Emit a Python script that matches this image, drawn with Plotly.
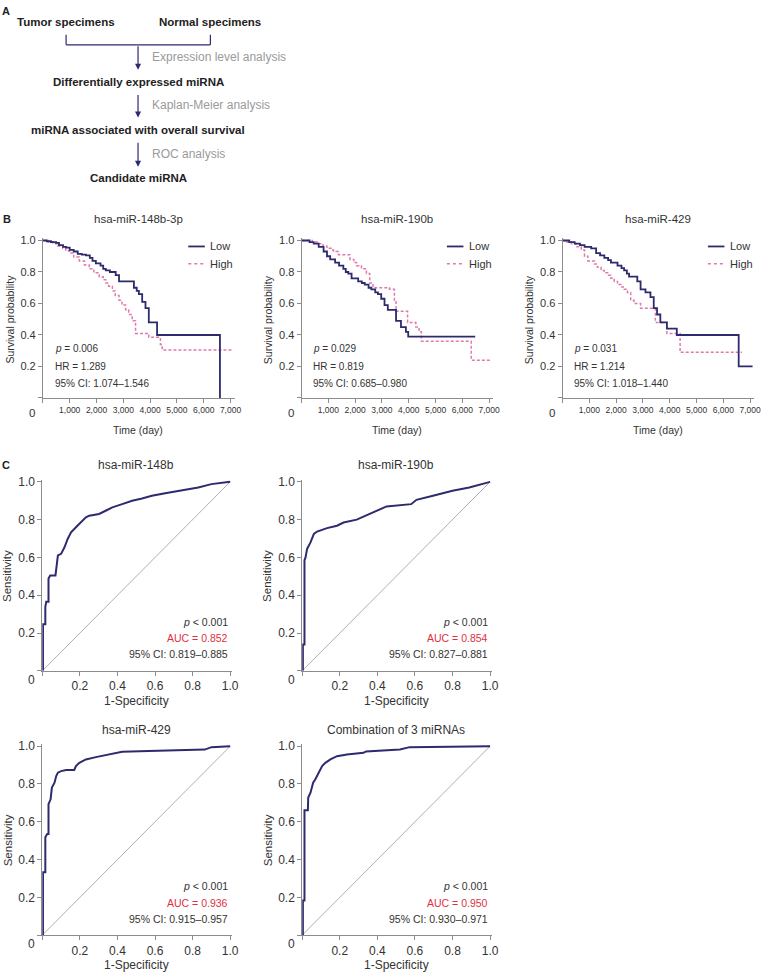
import plotly.graph_objects as go

W, H = 769, 975
NAVY = "#2d2a6e"
PINK = "#e07aae"
RED = "#e0303f"
GRAY = "#8c8c8c"
TXT = "#333333"
FONT = "Liberation Sans, Arial, sans-serif"

# ---------------- Data ----------------
km_titles = ["hsa-miR-148b-3p", "hsa-miR-190b", "hsa-miR-429"]

km1_low_t = [0, 150, 300, 494, 600, 750, 864, 1000, 1150, 1300, 1450, 1605, 1750, 1850, 1975, 2150, 2250, 2346, 2500, 2716, 2840, 3395, 3500, 3580, 3704, 3827, 3951, 4259, 6605]
km1_low_s = [1.0, 0.995, 0.99, 0.985, 0.97, 0.96, 0.955, 0.94, 0.93, 0.915, 0.91, 0.905, 0.89, 0.87, 0.855, 0.84, 0.82, 0.81, 0.80, 0.78, 0.74, 0.70, 0.68, 0.66, 0.61, 0.57, 0.48, 0.40, 0.0]
km1_high_t = [0, 200, 370, 550, 740, 850, 990, 1150, 1360, 1550, 1728, 1900, 2100, 2250, 2346, 2450, 2593, 2700, 2840, 2950, 3086, 3200, 3333, 3457, 3951, 4383, 4450, 7100]
km1_high_s = [1.0, 0.99, 0.98, 0.965, 0.95, 0.935, 0.92, 0.895, 0.87, 0.845, 0.82, 0.795, 0.77, 0.75, 0.73, 0.71, 0.68, 0.65, 0.62, 0.59, 0.56, 0.53, 0.49, 0.41, 0.385, 0.34, 0.305, 0.305]

km2_low_t = [0, 300, 455, 640, 823, 950, 1069, 1253, 1400, 1560, 1650, 1744, 1867, 2113, 2250, 2359, 2500, 2604, 2750, 2850, 2973, 3096, 3219, 3526, 3710, 3894, 3980, 6480]
km2_low_s = [1.0, 0.99, 0.98, 0.96, 0.93, 0.90, 0.88, 0.86, 0.84, 0.82, 0.80, 0.79, 0.76, 0.74, 0.73, 0.72, 0.70, 0.69, 0.67, 0.66, 0.63, 0.59, 0.56, 0.49, 0.45, 0.42, 0.39, 0.39]
km2_high_t = [0, 400, 640, 800, 946, 1100, 1192, 1376, 1806, 1950, 2051, 2236, 2420, 2543, 2666, 3280, 3464, 3526, 3956, 4263, 4386, 4472, 6330, 7100]
km2_high_s = [1.0, 0.99, 0.98, 0.965, 0.95, 0.94, 0.93, 0.91, 0.88, 0.86, 0.84, 0.82, 0.79, 0.73, 0.70, 0.69, 0.62, 0.55, 0.48, 0.45, 0.42, 0.36, 0.24, 0.24]

km3_low_t = [0, 250, 455, 650, 823, 1069, 1253, 1400, 1560, 1700, 1806, 2051, 2200, 2297, 2400, 2482, 2789, 2912, 3096, 3280, 3403, 3526, 3649, 3894, 4263, 6572, 7090]
km3_low_s = [1.0, 0.99, 0.98, 0.97, 0.96, 0.95, 0.92, 0.905, 0.89, 0.875, 0.86, 0.84, 0.825, 0.81, 0.79, 0.77, 0.74, 0.69, 0.67, 0.64, 0.57, 0.53, 0.48, 0.44, 0.40, 0.20, 0.20]
km3_high_t = [0, 150, 332, 500, 700, 820, 946, 1192, 1300, 1437, 1560, 1683, 1800, 1929, 2050, 2174, 2300, 2420, 2543, 2666, 2912, 3464, 3894, 4386, 6695]
km3_high_s = [1.0, 0.99, 0.98, 0.96, 0.94, 0.90, 0.87, 0.85, 0.83, 0.81, 0.795, 0.78, 0.76, 0.74, 0.72, 0.705, 0.69, 0.67, 0.62, 0.60, 0.57, 0.48, 0.41, 0.29, 0.29]

km_stats = [
    ["<i>p</i> = 0.006", "HR = 1.289", "95% CI: 1.074–1.546"],
    ["<i>p</i> = 0.029", "HR = 0.819", "95% CI: 0.685–0.980"],
    ["<i>p</i> = 0.031", "HR = 1.214", "95% CI: 1.018–1.440"],
]
km_xticks = [0, 1000, 2000, 3000, 4000, 5000, 6000, 7000]
km_xticktext = ["", "1,000", "2,000", "3,000", "4,000", "5,000", "6,000", "7,000"]
prob_ticks = [0, 0.2, 0.4, 0.6, 0.8, 1.0]
prob_ticktext = ["", "0.2", "0.4", "0.6", "0.8", "1.0"]

roc_titles = ["hsa-miR-148b", "hsa-miR-190b", "hsa-miR-429", "Combination of 3 miRNAs"]
roc1_fpr = [0.0035, 0.0035, 0.016, 0.016, 0.021, 0.033, 0.033, 0.042, 0.070, 0.074, 0.083, 0.10, 0.118, 0.135, 0.153, 0.179, 0.206, 0.232, 0.25, 0.302, 0.337, 0.373, 0.425, 0.478, 0.531, 0.583, 0.654, 0.742, 0.83, 0.90, 1.0]
roc1_tpr = [0.0, 0.246, 0.246, 0.339, 0.365, 0.365, 0.488, 0.505, 0.505, 0.549, 0.611, 0.619, 0.654, 0.698, 0.733, 0.76, 0.786, 0.812, 0.821, 0.83, 0.847, 0.865, 0.882, 0.90, 0.912, 0.926, 0.94, 0.953, 0.97, 0.988, 1.0]
roc2_fpr = [0.0035, 0.0035, 0.012, 0.012, 0.0176, 0.026, 0.044, 0.062, 0.079, 0.132, 0.185, 0.22, 0.29, 0.36, 0.449, 0.58, 0.608, 0.696, 0.80, 0.889, 1.0]
roc2_tpr = [0.0, 0.14, 0.14, 0.585, 0.60, 0.645, 0.68, 0.725, 0.737, 0.755, 0.768, 0.785, 0.80, 0.83, 0.87, 0.882, 0.905, 0.926, 0.953, 0.97, 1.0]
roc3_fpr = [0.0035, 0.0035, 0.016, 0.016, 0.026, 0.033, 0.033, 0.044, 0.051, 0.065, 0.074, 0.083, 0.10, 0.127, 0.17, 0.179, 0.197, 0.232, 0.285, 0.355, 0.425, 0.566, 0.742, 0.865, 0.90, 1.0]
roc3_tpr = [0.0, 0.333, 0.333, 0.518, 0.535, 0.535, 0.693, 0.719, 0.781, 0.807, 0.842, 0.86, 0.868, 0.874, 0.874, 0.895, 0.912, 0.93, 0.942, 0.956, 0.97, 0.974, 0.977, 0.982, 0.995, 1.0]
roc4_fpr = [0.0035, 0.0035, 0.012, 0.012, 0.03, 0.032, 0.044, 0.058, 0.07, 0.088, 0.106, 0.123, 0.15, 0.185, 0.238, 0.326, 0.34, 0.52, 0.572, 1.0]
roc4_tpr = [0.0, 0.184, 0.184, 0.661, 0.661, 0.728, 0.754, 0.807, 0.825, 0.86, 0.895, 0.912, 0.93, 0.947, 0.956, 0.965, 0.972, 0.983, 0.995, 1.0]
roc_auc = ["AUC = 0.852", "AUC = 0.854", "AUC = 0.936", "AUC = 0.950"]
roc_ci = ["95% CI: 0.819–0.885", "95% CI: 0.827–0.881", "95% CI: 0.915–0.957", "95% CI: 0.930–0.971"]
roc_ticktext = ["", "0.2", "0.4", "0.6", "0.8", "1.0"]
diag = [0, 1]

flow_steps = ["Differentially expressed miRNA", "miRNA associated with overall survival", "Candidate miRNA"]
flow_methods = ["Expression level analysis", "Kaplan-Meier analysis", "ROC analysis"]

# ---------------- Helpers ----------------
fig = go.Figure()
layout = {}
annotations = []
shapes = []


def PX(p):
    return p / W


def PY(p):
    return 1 - p / H


def ann(text, x, y, size, color=TXT, xanchor="center", yanchor="middle", bold=False, angle=0):
    annotations.append(dict(
        text=text, x=PX(x), y=PY(y), xref="paper", yref="paper", showarrow=False,
        xanchor=xanchor, yanchor=yanchor, textangle=angle,
        font=dict(size=size, color=color, family=FONT, weight="bold" if bold else "normal")))


def hline(x0, x1, y, color, width=1.2, dash="solid"):
    shapes.append(dict(type="line", xref="paper", yref="paper", x0=PX(x0), x1=PX(x1), y0=PY(y), y1=PY(y),
                       line=dict(color=color, width=width, dash=dash)))


def vline(x, y0, y1, color, width=1.2):
    shapes.append(dict(type="line", xref="paper", yref="paper", x0=PX(x), x1=PX(x), y0=PY(y0), y1=PY(y1),
                       line=dict(color=color, width=width)))


def make_axes(n, x0px, sx, xr, y0px, sy, yr, xt, xtt, yt, ytt, xfs, yfs):
    xname = "xaxis" if n == 1 else f"xaxis{n}"
    yname = "yaxis" if n == 1 else f"yaxis{n}"
    anchor_x = "x" if n == 1 else f"x{n}"
    anchor_y = "y" if n == 1 else f"y{n}"
    common = dict(showline=True, linecolor=GRAY, linewidth=1, ticks="outside", ticklen=4,
                  tickwidth=1, tickcolor=GRAY, showgrid=False, zeroline=False, fixedrange=True)
    layout[xname] = dict(domain=[PX(x0px + xr[0] * sx), PX(x0px + xr[1] * sx)], range=xr,
                         anchor=anchor_y, tickvals=xt, ticktext=xtt,
                         tickfont=dict(size=xfs, color=TXT, family=FONT), **common)
    layout[yname] = dict(domain=[PY(y0px - yr[0] * sy), PY(y0px - yr[1] * sy)], range=yr,
                         anchor=anchor_x, tickvals=yt, ticktext=ytt,
                         tickfont=dict(size=yfs, color=TXT, family=FONT), **common)
    return anchor_x, anchor_y


# ---------------- Panel A: flowchart ----------------
ann("A", 6, 6, 11, "#222", bold=True)
ann("Tumor specimens", 66.7, 17, 11.5, "#222", bold=True)
ann("Normal specimens", 212, 17, 11.5, "#222", bold=True)
vline(66.7, 30, 40, NAVY)
vline(212.3, 30, 40, NAVY)
hline(66.7, 212.3, 40, NAVY)
arrow_spans = [(40, 65), (89, 113), (137, 162.7)]
step_y = [77.7, 126, 174]
method_y = [52.7, 101, 150]
for (t0, t1), sy_, my_, step, meth in zip(arrow_spans, step_y, method_y, flow_steps, flow_methods):
    annotations.append(dict(x=PX(139.3), y=PY(t1), xref="paper", yref="paper", ax=0, ay=-(t1 - t0),
                            text="", showarrow=True, arrowhead=2, arrowsize=1, arrowwidth=1.2,
                            arrowcolor=NAVY, standoff=0))
    ann(meth, 151.7, my_, 12, "#9a9a9a", xanchor="left")
    ann(step, 139.5, sy_, 11.5, "#222", bold=True)

# ---------------- Panel B: Kaplan-Meier ----------------
ann("B", 7, 215, 11, "#222", bold=True)
km_x0 = [43.3, 304.3, 567.7]
km_data = [(km1_low_t, km1_low_s, km1_high_t, km1_high_s),
           (km2_low_t, km2_low_s, km2_high_t, km2_high_s),
           (km3_low_t, km3_low_s, km3_high_t, km3_high_s)]
KM_SX = 0.02705
KM_Y0, KM_SY = 395, 158.3
for i in range(3):
    x0 = km_x0[i]
    xa, ya = make_axes(i + 1, x0, KM_SX, [0, 7150], KM_Y0, KM_SY, [0, 1.015],
                       km_xticks, km_xticktext, prob_ticks, prob_ticktext, 8.5, 11)
    lt, ls, ht, hs = km_data[i]
    fig.add_trace(go.Scatter(x=ht, y=hs, mode="lines", line=dict(color=PINK, width=1.5, dash="3px,2px", shape="hv"),
                             xaxis=xa, yaxis=ya, showlegend=False, name="High"))
    fig.add_trace(go.Scatter(x=lt, y=ls, mode="lines", line=dict(color=NAVY, width=1.8, shape="hv"),
                             xaxis=xa, yaxis=ya, showlegend=False, name="Low"))
    cx = x0 + 3550 * KM_SX
    ann(km_titles[i], cx, 215, 11.5)
    ann("0", x0 - 11, 410, 11.5)
    ann("Time (day)", cx, 427, 10.5)
    ann("Survival probability", x0 - 33, 316, 10.5, angle=-90)
    for j, txt in enumerate(km_stats[i]):
        ann(txt, x0 + 10, [345.7, 363, 380][j], 10, xanchor="left")
    # legend
    hline(x0 + 146.7, x0 + 163.4, 242.7, NAVY, 1.8)
    hline(x0 + 146.7, x0 + 163.4, 260, PINK, 1.5, "dot")
    ann("Low", x0 + 166.5, 242.7, 11, xanchor="left")
    ann("High", x0 + 166.5, 260, 11, xanchor="left")

# ---------------- Panel C: ROC ----------------
ann("C", 6, 462, 11, "#222", bold=True)
roc_pos = [(42.7, 669.3), (305, 669.3), (42.7, 935), (305, 935)]
roc_data = [(roc1_fpr, roc1_tpr), (roc2_fpr, roc2_tpr), (roc3_fpr, roc3_tpr), (roc4_fpr, roc4_tpr)]
ROC_S = 189.6
for i in range(4):
    x0, y0 = roc_pos[i]
    xa, ya = make_axes(i + 4, x0, ROC_S, [0, 1.01], y0, 190, [0, 1.01],
                       prob_ticks, roc_ticktext, prob_ticks, roc_ticktext, 12, 12)
    fig.add_trace(go.Scatter(x=diag, y=diag, mode="lines", line=dict(color="#9a9a9a", width=0.8),
                             xaxis=xa, yaxis=ya, showlegend=False, hoverinfo="skip"))
    fx, ty = roc_data[i]
    fig.add_trace(go.Scatter(x=fx, y=ty, mode="lines", line=dict(color=NAVY, width=2),
                             xaxis=xa, yaxis=ya, showlegend=False, name=roc_titles[i]))
    top = y0 - 190
    cx = x0 + 0.5 * ROC_S
    ann(roc_titles[i], cx, top - 16.5, 12)
    ann("0", x0 - 11, y0 + 9, 12)
    ann("1-Specificity", cx, y0 + 30, 12)
    ann("Sensitivity", x0 - 35, y0 - 95, 11.5, angle=-90)
    xr = x0 + ROC_S
    ann("<i>p</i> &lt; 0.001", xr, y0 - 49.3, 10.5, xanchor="right")
    ann(roc_auc[i], xr, y0 - 32.6, 10.5, RED, xanchor="right")
    ann(roc_ci[i], xr, y0 - 16.6, 10.5, xanchor="right")

fig.update_layout(width=W, height=H, margin=dict(l=0, r=0, t=0, b=0),
                  paper_bgcolor="white", plot_bgcolor="white",
                  annotations=annotations, shapes=shapes, showlegend=False,
                  font=dict(family=FONT, color=TXT), **layout)
fig.write_html("out.html", config={"displayModeBar": False},
               post_script="document.body.style.margin='0';document.body.style.overflow='hidden';")
